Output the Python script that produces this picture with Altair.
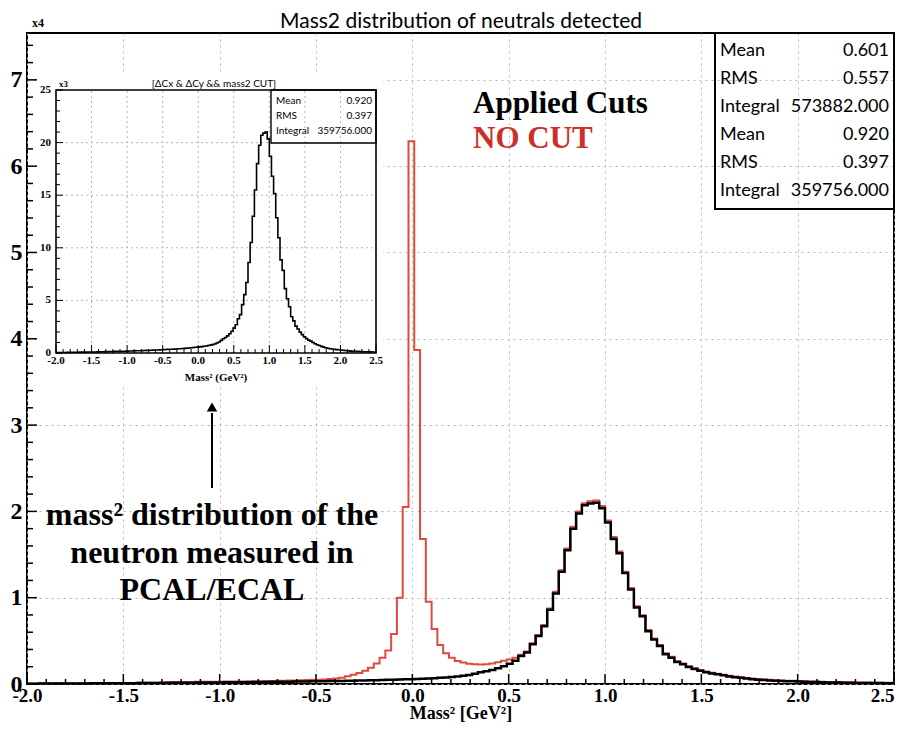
import altair as alt
import numpy as np
import pandas as pd

# ---------------- data ----------------
bin_lo, bin_hi, n_bins = -2.0, 2.5, 150

red_counts = [
    70, 70, 80, 80, 80, 90, 90, 90, 100, 100,
    100, 110, 110, 110, 120, 120, 130, 130, 130, 140,
    140, 150, 150, 160, 220, 220, 230, 230, 240, 260,
    260, 270, 270, 270, 280, 280, 290, 300, 310, 320,
    330, 340, 350, 370, 380, 400, 420, 440, 460, 480,
    500, 530, 570, 630, 730, 900, 1080, 1280, 1530, 1880,
    2380, 3030, 3880, 5800, 10000, 20500, 62900, 38700, 16800, 9540,
    6370, 4520, 3550, 3050, 2660, 2480, 2350, 2290, 2260, 2280,
    2380, 2520, 2680, 2850, 3050, 3400, 3780, 4720, 5680, 6840,
    8750, 10680, 13180, 15700, 18220, 19980, 20950, 21180, 21250, 20620,
    18950, 17020, 15350, 13020, 11120, 9000, 7980, 6260, 5280, 4520,
    3560, 3150, 2650, 2370, 2070, 1830, 1610, 1450, 1300, 1200,
    1070, 950, 860, 780, 700, 630, 570, 520, 480, 440,
    410, 380, 370, 350, 320, 300, 280, 260, 240, 230,
    220, 200, 190, 180, 170, 160, 150, 150, 140, 140,
]

black_counts = [
    40, 40, 50, 50, 50, 60, 60, 60, 70, 70,
    70, 80, 80, 80, 90, 90, 100, 100, 100, 110,
    110, 120, 120, 130, 130, 140, 140, 150, 150, 160,
    160, 170, 170, 180, 190, 190, 200, 210, 210, 220,
    230, 240, 250, 250, 260, 270, 280, 290, 300, 310,
    320, 330, 340, 350, 360, 370, 380, 400, 410, 430,
    440, 460, 480, 500, 520, 540, 560, 580, 610, 640,
    670, 710, 750, 800, 860, 950, 1050, 1200, 1350, 1480,
    1630, 1830, 2070, 2360, 2680, 3250, 3650, 4600, 5550, 6700,
    8600, 10500, 13000, 15500, 18000, 19750, 20700, 20900, 21000, 20350,
    18700, 16800, 15150, 12850, 10950, 8850, 7850, 6120, 5150, 4400,
    3450, 3050, 2550, 2280, 1980, 1750, 1530, 1370, 1220, 1130,
    1000, 880, 790, 710, 630, 560, 500, 450, 410, 380,
    350, 320, 310, 290, 260, 240, 220, 200, 180, 170,
    160, 150, 140, 130, 120, 120, 110, 110, 100, 100,
]

x_major = [-2.0, -1.5, -1.0, -0.5, 0.0, 0.5, 1.0, 1.5, 2.0, 2.5]
x_labels = ["-2.0", "-1.5", "-1.0", "-0.5", "0.0", "0.5", "1.0", "1.5", "2.0", "2.5"]
y_major = [0, 10000, 20000, 30000, 40000, 50000, 60000, 70000]
inset_y_major = [0, 5000, 10000, 15000, 20000, 25000]
inset_y_labels = ["0", "5", "10", "15", "20", "25"]

main_stat_names = ["Mean", "RMS", "Integral", "Mean", "RMS", "Integral"]
main_stat_values = ["0.601", "0.557", "573882.000", "0.920", "0.397", "359756.000"]
inset_stat_names = ["Mean", "RMS", "Integral"]
inset_stat_values = ["0.920", "0.397", "359756.000"]

title_text = "Mass2 distribution of neutrals detected"
inset_title_text = "[\u0394Cx & \u0394Cy && mass2 CUT]"
note_lines = ["mass\u00b2 distribution of the", "neutron measured in", "PCAL/ECAL"]

# ---------------- derived tables ----------------
edges = np.round(np.linspace(bin_lo, bin_hi, n_bins + 1), 4)


def step_df(counts):
    return pd.DataFrame({"x": edges, "y": list(counts) + [counts[-1]]})


df_red = step_df(red_counts)
df_black = step_df(black_counts)
df_inset = pd.DataFrame({"xi": edges, "yi": list(black_counts) + [black_counts[-1]]})

x_minor = [round(-2.0 + 0.1 * i, 1) for i in range(46) if i % 5 != 0]
y_minor = [2000 * i for i in range(38) if i % 5 != 0]
inset_x_minor = x_minor
inset_y_minor = [1000 * i for i in range(26) if i % 5 != 0]

one = pd.DataFrame({"a": [0]})

W, H = 867, 651
SERIF = "Liberation Serif"
SANS = "Lato"
RED = "#e04a3e"
GRID = "#b4b4b4"

# ---------------- main panel ----------------
xs = alt.Scale(domain=[bin_lo, bin_hi], nice=False, zero=False)
ys = alt.Scale(domain=[0, 75430], nice=False, zero=False)

x_axis = alt.Axis(
    values=x_major,
    labelExpr="(datum.value < 0 ? '-' : '') + format(abs(datum.value), '.1f')",
    labelAlign={"condition": {"test": "datum.value >= 2.5", "value": "right"}, "value": "center"},
    labelFont=SERIF, labelFontWeight="bold", labelFontSize=19, labelColor="black",
    labelFlush=False, labelPadding=2, ticks=False, tickSize=0, domain=False,
    grid=True, gridDash=[2, 4], gridColor=GRID, gridWidth=1, title=None,
)
y_axis = alt.Axis(
    values=y_major,
    labelExpr="format(datum.value / 10000, 'd')",
    labelFont=SERIF, labelFontWeight="bold", labelFontSize=24, labelColor="black",
    labelFlush=False, labelPadding=5, ticks=False, tickSize=0, domain=False,
    grid=True, gridDash=[2, 4], gridColor=GRID, gridWidth=1, title=None,
)

red_line = alt.Chart(df_red).mark_line(
    interpolate="step-after", color=RED, strokeWidth=2
).encode(x=alt.X("x:Q", scale=xs, axis=x_axis), y=alt.Y("y:Q", scale=ys, axis=y_axis))

black_line = alt.Chart(df_black).mark_line(
    interpolate="step-after", color="black", strokeWidth=2.5
).encode(x="x:Q", y="y:Q")


def xticks(vals, length, width=1.5):
    return alt.Chart(pd.DataFrame({"x": vals})).mark_rule(color="black", strokeWidth=width).encode(
        x="x:Q", y=alt.value(H), y2=alt.value(H - length))


def yticks(vals, length, width=1.5):
    return alt.Chart(pd.DataFrame({"y": vals})).mark_rule(color="black", strokeWidth=width).encode(
        y="y:Q", x=alt.value(0), x2=alt.value(length))


def txt(text, x, y, **kw):
    return alt.Chart(one).mark_text(text=text, **kw).encode(x=alt.value(x), y=alt.value(y))


stats_box = alt.Chart(one).mark_rect(fillOpacity=0, stroke="black", strokeWidth=2).encode(
    x=alt.value(688), x2=alt.value(W), y=alt.value(0), y2=alt.value(176))

stat_layers = []
for i, (n, v) in enumerate(zip(main_stat_names, main_stat_values)):
    yy = 17.5 + 28 * i
    stat_layers.append(txt(n, 693, yy, align="left", baseline="middle", font=SANS, fontSize=18, color="black"))
    stat_layers.append(txt(v, 862, yy, align="right", baseline="middle", font=SANS, fontSize=18, color="black"))

title = txt(title_text, 434, -5, align="center", baseline="alphabetic", font=SANS, fontSize=21, color="black")
x4 = txt("x4", 5, -6, align="left", baseline="alphabetic", font=SERIF, fontWeight="bold", fontSize=12, color="black")
x_title = txt("Mass\u00b2 [GeV\u00b2]", 434, H + 35, align="center", baseline="alphabetic",
              font=SERIF, fontWeight="bold", fontSize=18, color="black")
applied = txt("Applied Cuts", 446, 80, align="left", baseline="alphabetic", font=SERIF,
              fontWeight="bold", fontSize=31, color="black")
nocut = txt("NO CUT", 446, 115, align="left", baseline="alphabetic", font=SERIF,
            fontWeight="bold", fontSize=31, color="#cc2e2a")
notes = [txt(line, 185, 492 + 37.5 * i, align="center", baseline="alphabetic", font=SERIF,
             fontWeight="bold", fontSize=32, color="black") for i, line in enumerate(note_lines)]

arrow_shaft = alt.Chart(one).mark_rule(color="black", strokeWidth=2).encode(
    x=alt.value(185), y=alt.value(455), y2=alt.value(380))
arrow_head = alt.Chart(one).mark_point(shape="triangle-up", filled=True, color="black", size=110, opacity=1).encode(
    x=alt.value(185), y=alt.value(374))

main_layer = alt.layer(
    red_line, black_line,
    xticks(x_major, 10), xticks(x_minor, 5), yticks(y_major, 10), yticks(y_minor, 6),
    stats_box, *stat_layers, title, x4, x_title, applied, nocut, *notes, arrow_shaft, arrow_head,
)

# ---------------- inset panel ----------------
IL, IR, IT, IB = 29, 349, 57, 320
xi = alt.Scale(domain=[bin_lo, bin_hi], range=[IL, IR], nice=False, zero=False)
yi = alt.Scale(domain=[0, 25000], range=[IB, IT], nice=False, zero=False)

pad = alt.Chart(one).mark_rect(fill="white").encode(
    x=alt.value(11), x2=alt.value(356), y=alt.value(40), y2=alt.value(352))

igrid_x = alt.Chart(pd.DataFrame({"xi": x_major[1:-1]})).mark_rule(
    color=GRID, strokeDash=[2, 3], strokeWidth=1
).encode(x=alt.X("xi:Q", scale=xi, axis=None), y=alt.value(IB), y2=alt.value(IT))
igrid_y = alt.Chart(pd.DataFrame({"yi": inset_y_major[1:-1]})).mark_rule(
    color=GRID, strokeDash=[2, 3], strokeWidth=1
).encode(y=alt.Y("yi:Q", scale=yi, axis=None), x=alt.value(IL), x2=alt.value(IR))

inset_line = alt.Chart(df_inset).mark_line(interpolate="step-after", color="black", strokeWidth=1.6).encode(
    x="xi:Q", y="yi:Q")

inset_frame = alt.Chart(one).mark_rect(fillOpacity=0, stroke="black", strokeWidth=1.6).encode(
    x=alt.value(IL), x2=alt.value(IR), y=alt.value(IT), y2=alt.value(IB))


def ixticks(vals, length):
    return alt.Chart(pd.DataFrame({"xi": vals})).mark_rule(color="black", strokeWidth=1).encode(
        x="xi:Q", y=alt.value(IB), y2=alt.value(IB - length))


def iyticks(vals, length):
    return alt.Chart(pd.DataFrame({"yi": vals})).mark_rule(color="black", strokeWidth=1).encode(
        y="yi:Q", x=alt.value(IL), x2=alt.value(IL + length))


ix_labels = alt.Chart(pd.DataFrame({"xi": x_major, "lab": x_labels})).mark_text(
    font=SERIF, fontWeight="bold", fontSize=11, color="black", baseline="top"
).encode(x="xi:Q", y=alt.value(IB + 2), text="lab:N")
iy_labels = alt.Chart(pd.DataFrame({"yi": inset_y_major, "lab": inset_y_labels})).mark_text(
    font=SERIF, fontWeight="bold", fontSize=11, color="black", align="right", baseline="middle"
).encode(y="yi:Q", x=alt.value(IL - 5), text="lab:N")

ibox = alt.Chart(one).mark_rect(fillOpacity=0, stroke="black", strokeWidth=1.4).encode(
    x=alt.value(244), x2=alt.value(IR), y=alt.value(IT), y2=alt.value(110))
istat_layers = []
for i, (n, v) in enumerate(zip(inset_stat_names, inset_stat_values)):
    yy = 68 + 15 * i
    istat_layers.append(txt(n, 249, yy, align="left", baseline="middle", font=SANS, fontSize=10, color="black"))
    istat_layers.append(txt(v, 345, yy, align="right", baseline="middle", font=SANS, fontSize=10, color="black"))

ititle = txt(inset_title_text, 187, 51, align="center", baseline="middle", font=SANS, fontSize=10, color="black")
ix3 = txt("x3", 32, 51, align="left", baseline="middle", font=SERIF, fontWeight="bold", fontSize=9, color="black")
ixtitle = txt("Mass\u00b2 (GeV\u00b2)", 189, 345, align="center", baseline="middle", font=SERIF,
              fontWeight="bold", fontSize=11, color="black")

inset_layer = alt.layer(
    pad, igrid_x, igrid_y, inset_line,
    ixticks(x_major, 8), ixticks(inset_x_minor, 4), iyticks(inset_y_major, 7), iyticks(inset_y_minor, 4),
    inset_frame, ibox, *istat_layers, ititle, ix3, ixtitle, ix_labels, iy_labels,
)

chart = alt.layer(main_layer, inset_layer).resolve_scale(
    x="independent", y="independent"
).properties(
    width=W, height=H,
    autosize=alt.AutoSizeParams(type="none"),
    padding={"left": 19, "top": 25, "right": 2, "bottom": 39},
    background="white",
).configure_view(stroke="black", strokeWidth=2)

chart.save("out.html", embed_options={"renderer": "svg", "actions": False})
